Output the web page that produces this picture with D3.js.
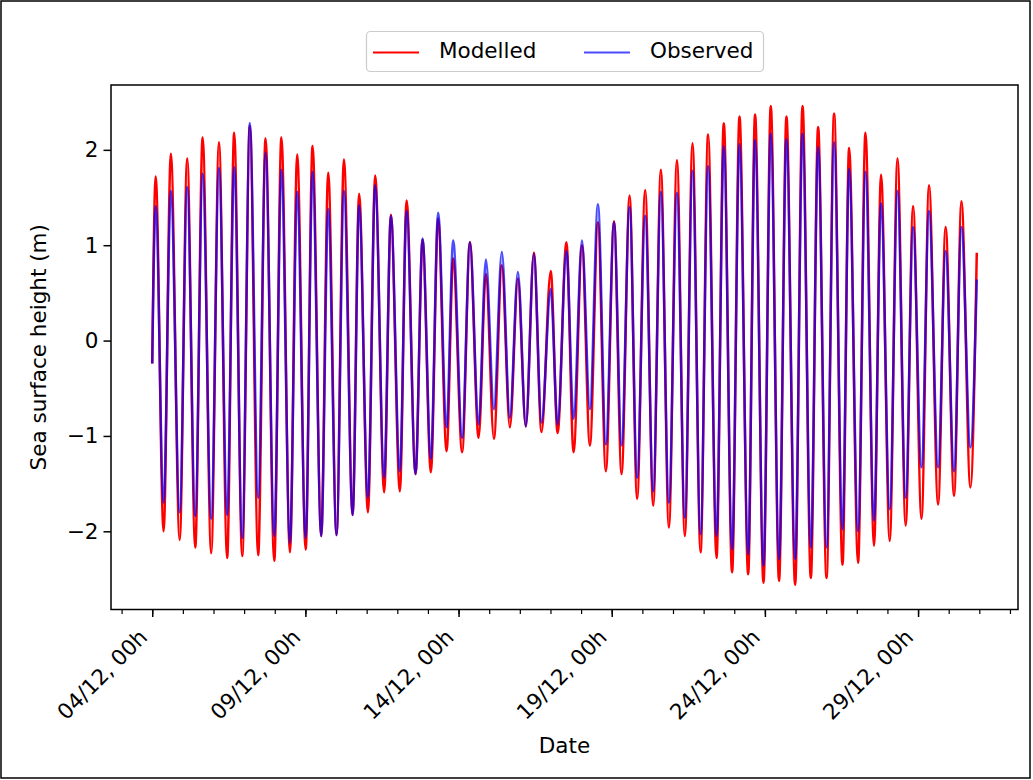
<!DOCTYPE html>
<html>
<head>
<meta charset="utf-8">
<script src="https://cdn.jsdelivr.net/npm/d3@7"></script>
<style>
  body { margin: 0; background: #fff; }
  svg text { font-family: "DejaVu Sans", sans-serif; fill: #000; }
</style>
</head>
<body>
<svg id="chart" width="1033" height="780"></svg>
<script>
// Record start and tidal turning points (hours after the start of the record).
const recordStart = "2019-12-04T00:00:00Z";
const seriesNames = ["Modelled", "Observed"];
const seriesColors = ["#ff0000", "#0000ff"];

const firstHeights = [-0.24, -0.24];
const lastHour = 646;
const lastHeights = [0.92, 0.64];

const highWaterHours = [
  2.7, 14.6, 27.4, 39.5, 52.3, 64.2, 76.5, 88.8, 101.2, 113.6,
  125.6, 137.9, 150.2, 162.1, 174.7, 187.0, 199.3, 211.8, 224.0, 235.8,
  248.9, 261.4, 273.9, 286.5, 299.0, 312.2, 324.5, 336.7, 349.2, 361.8,
  374.0, 386.2, 398.5, 411.1, 423.3, 435.5, 447.8, 460.1, 472.3, 484.6,
  496.9, 509.5, 521.7, 534.2, 546.0, 558.8, 571.0, 583.9, 596.1, 608.6,
  621.6, 634.0
];
const modelledHigh = [
  1.72, 1.96, 1.91, 2.13, 2.08, 2.18, 2.25, 2.12, 2.13, 1.95,
  2.04, 1.76, 1.90, 1.54, 1.73, 1.32, 1.47, 1.06, 1.28, 0.86,
  1.03, 0.70, 0.79, 0.65, 0.92, 0.73, 1.03, 1.00, 1.24, 1.25,
  1.52, 1.58, 1.79, 1.89, 2.07, 2.16, 2.28, 2.35, 2.37, 2.46,
  2.35, 2.46, 2.24, 2.38, 2.02, 2.18, 1.74, 1.91, 1.41, 1.63,
  1.19, 1.46
];
const observedHigh = [
  1.41, 1.57, 1.61, 1.75, 1.81, 1.82, 2.28, 1.97, 1.79, 1.56,
  1.77, 1.38, 1.57, 1.42, 1.63, 1.31, 1.36, 1.07, 1.34, 1.05,
  1.03, 0.85, 0.93, 0.72, 0.91, 0.54, 0.94, 1.05, 1.43, 1.24,
  1.40, 1.31, 1.56, 1.55, 1.78, 1.83, 2.04, 2.06, 2.10, 2.17,
  2.11, 2.17, 2.03, 2.08, 1.80, 1.77, 1.44, 1.57, 1.19, 1.36,
  0.94, 1.19
];

const lowWaterHours = [
  8.9, 21.5, 33.7, 46.2, 58.7, 70.5, 83.0, 95.6, 107.9, 120.2,
  132.4, 144.4, 157.0, 169.0, 181.7, 194.0, 206.3, 218.3, 230.6, 242.8,
  255.7, 267.7, 280.2, 292.7, 305.0, 317.6, 330.1, 342.9, 355.4, 367.7,
  379.9, 392.5, 404.8, 417.3, 429.6, 442.1, 454.3, 466.9, 478.9, 491.1,
  503.7, 516.0, 528.3, 540.8, 553.0, 565.5, 577.8, 590.3, 602.7, 615.7,
  628.2, 641.0
];
const modelledLow = [
  -2.00, -2.09, -2.17, -2.23, -2.28, -2.26, -2.25, -2.31, -2.22, -2.19,
  -2.05, -2.04, -1.83, -1.80, -1.59, -1.58, -1.40, -1.38, -1.16, -1.17,
  -1.02, -1.03, -0.91, -0.90, -0.96, -0.97, -1.17, -1.10, -1.37, -1.40,
  -1.66, -1.73, -1.96, -2.05, -2.22, -2.28, -2.43, -2.45, -2.54, -2.52,
  -2.56, -2.49, -2.49, -2.35, -2.33, -2.15, -2.10, -1.94, -1.87, -1.72,
  -1.63, -1.54
];
const observedLow = [
  -1.70, -1.80, -1.84, -1.87, -1.83, -2.07, -1.65, -2.05, -2.12, -2.07,
  -2.05, -2.04, -1.83, -1.65, -1.44, -1.37, -1.40, -1.24, -0.91, -1.02,
  -0.88, -0.72, -0.81, -0.90, -0.86, -0.88, -0.82, -0.72, -1.09, -1.10,
  -1.44, -1.58, -1.70, -1.86, -2.03, -2.05, -2.19, -2.24, -2.36, -2.29,
  -2.29, -2.17, -2.17, -1.98, -2.00, -1.89, -1.77, -1.65, -1.33, -1.33,
  -1.37, -1.12
];

const majorTickDates = ["2019-12-04", "2019-12-09", "2019-12-14", "2019-12-19", "2019-12-24", "2019-12-29"];
const yTickValues = [-2, -1, 0, 1, 2];

// ---- build each series as a time-ordered list of turning points
const t0 = new Date(recordStart);
const hourToDate = h => new Date(t0.getTime() + h * 3600e3);

function buildSeries(k, highs, lows) {
  const pts = [{ t: 0, v: firstHeights[k] }];
  highWaterHours.forEach((h, i) => pts.push({ t: h, v: highs[i] }));
  lowWaterHours.forEach((h, i) => pts.push({ t: h, v: lows[i] }));
  pts.push({ t: lastHour, v: lastHeights[k] });
  pts.sort((a, b) => a.t - b.t);
  return pts.map(p => ({ date: hourToDate(p.t), value: p.v }));
}
const series = [
  buildSeries(0, modelledHigh, modelledLow),
  buildSeries(1, observedHigh, observedLow)
];

// ---- layout
const svg = d3.select("#chart");
const plot = { left: 111, right: 1018, top: 85, bottom: 609.5 };
const fontSize = 21.5;

// figure frame
svg.append("rect")
  .attr("x", 1).attr("y", 1).attr("width", 1029).attr("height", 777)
  .attr("fill", "#fff").attr("stroke", "#000").attr("stroke-width", 1.5);

const pad = 0.05 * lastHour;
const x = d3.scaleUtc()
  .domain([hourToDate(-pad), hourToDate(lastHour + pad)])
  .range([plot.left, plot.right]);
const y = d3.scaleLinear()
  .domain([-2.82, 2.68])
  .range([plot.bottom, plot.top]);

// ---- lines
const line = d3.line()
  .x(d => x(d.date))
  .y(d => y(d.value))
  .curve(d3.curveMonotoneX);

const lineGroup = svg.append("g");
series.forEach((s, k) => {
  lineGroup.append("path")
    .datum(s)
    .attr("fill", "none")
    .attr("stroke", seriesColors[k])
    .attr("stroke-opacity", k === 1 ? 0.7 : 1)
    .attr("stroke-width", 2.5)
    .attr("stroke-linejoin", "round")
    .attr("d", line);
});

// ---- axes
const fmt = d3.utcFormat("%d/%m, %Hh");
const majorDates = majorTickDates.map(s => new Date(s + "T00:00:00Z"));
const minorDates = d3.utcDay.range(x.domain()[0], x.domain()[1]);

const xMinor = svg.append("g")
  .attr("transform", `translate(0,${plot.bottom})`)
  .call(d3.axisBottom(x).tickValues(minorDates).tickSize(4.5).tickFormat(""));
xMinor.select(".domain").remove();
xMinor.selectAll("line").attr("stroke-width", 1.2);

const xMajor = svg.append("g")
  .attr("transform", `translate(0,${plot.bottom})`)
  .call(d3.axisBottom(x).tickValues(majorDates).tickSize(7.5).tickFormat(fmt));
xMajor.select(".domain").remove();
xMajor.selectAll("line").attr("stroke-width", 1.5);
xMajor.selectAll("text")
  .attr("x", 0).attr("y", 0).attr("dy", null)
  .attr("text-anchor", "end")
  .attr("font-size", fontSize)
  .attr("transform", "translate(-4,29) rotate(-45)");

const yAxis = svg.append("g")
  .attr("transform", `translate(${plot.left},0)`)
  .call(d3.axisLeft(y).tickValues(yTickValues).tickSize(7.5).tickPadding(5)
    .tickFormat(d => d < 0 ? "\u2212" + Math.abs(d) : String(d)));
yAxis.select(".domain").remove();
yAxis.selectAll("line").attr("stroke-width", 1.5);
yAxis.selectAll("text").attr("font-size", fontSize);

// plot frame
svg.append("rect")
  .attr("x", plot.left).attr("y", plot.top)
  .attr("width", plot.right - plot.left).attr("height", plot.bottom - plot.top)
  .attr("fill", "none").attr("stroke", "#000").attr("stroke-width", 1.5);

// axis titles
svg.append("text")
  .attr("x", (plot.left + plot.right) / 2).attr("y", 753)
  .attr("text-anchor", "middle").attr("font-size", fontSize)
  .text("Date");
svg.append("text")
  .attr("transform", `translate(46,${(plot.top + plot.bottom) / 2}) rotate(-90)`)
  .attr("text-anchor", "middle").attr("font-size", fontSize)
  .text("Sea surface height (m)");

// ---- legend
const legend = svg.append("g");
legend.append("rect")
  .attr("x", 366.5).attr("y", 31.5).attr("width", 397).attr("height", 40)
  .attr("rx", 4).attr("fill", "#fff").attr("fill-opacity", 0.8)
  .attr("stroke", "#cccccc").attr("stroke-width", 1.2);
const legendX = [373, 584];
seriesNames.forEach((name, k) => {
  legend.append("line")
    .attr("x1", legendX[k]).attr("x2", legendX[k] + 46)
    .attr("y1", 52.5).attr("y2", 52.5)
    .attr("stroke", seriesColors[k])
    .attr("stroke-opacity", k === 1 ? 0.7 : 1)
    .attr("stroke-width", 2.2);
  legend.append("text")
    .attr("x", legendX[k] + 66).attr("y", 58)
    .attr("font-size", fontSize)
    .text(name);
});
</script>
</body>
</html>
